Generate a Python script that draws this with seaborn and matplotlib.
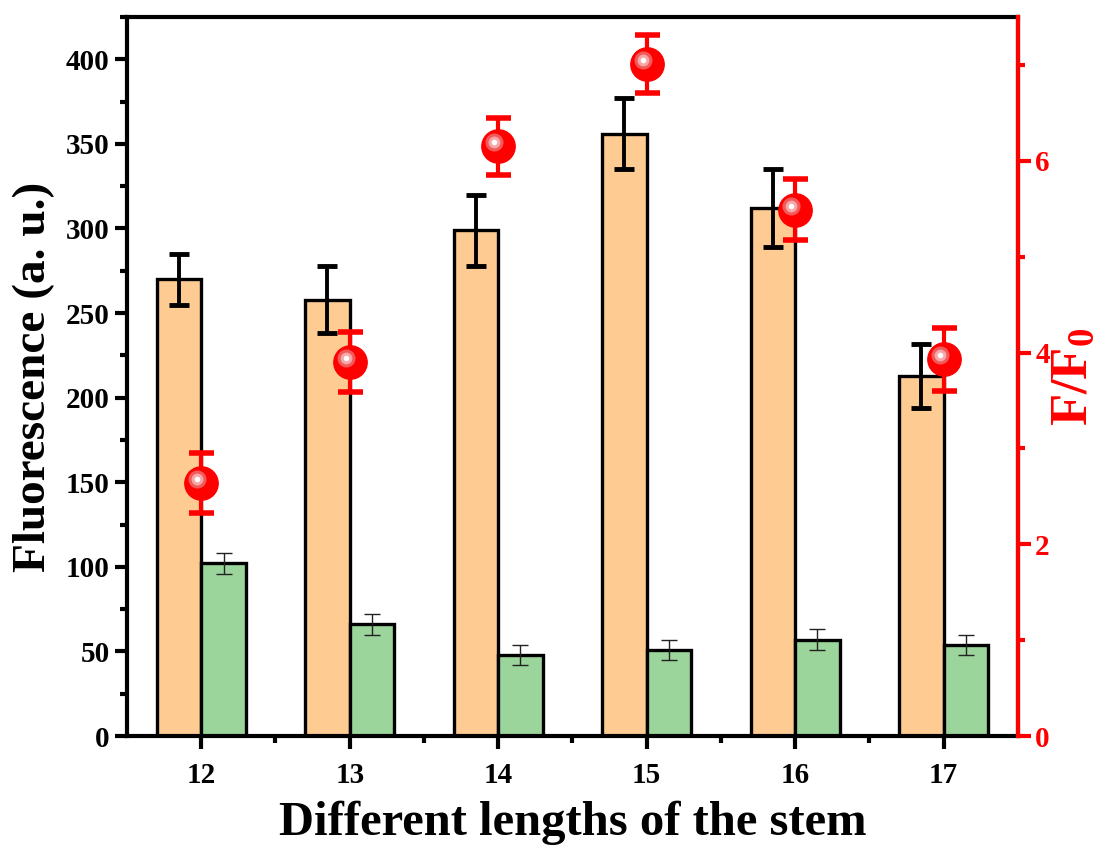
import numpy as np
import pandas as pd
import matplotlib
matplotlib.use("Agg")
import matplotlib.pyplot as plt
import matplotlib.transforms as mtransforms
import seaborn as sns

stem_lengths = ["12", "13", "14", "15", "16", "17"]
fluo_probe = [270, 258, 299, 356, 312, 213]
fluo_probe_err = [15, 20, 21, 21, 23, 19]
fluo_blank = [102, 66, 48, 51, 57, 54]
fluo_blank_err = [6, 6, 6, 6, 6, 6]
ratio = [2.64, 3.90, 6.15, 7.01, 5.49, 3.93]
ratio_err = [0.31, 0.31, 0.30, 0.30, 0.32, 0.33]

sns.set_style("ticks")
plt.rcParams["font.family"] = ["Liberation Serif", "DejaVu Serif"]
plt.rcParams["font.weight"] = "bold"
plt.rcParams["text.color"] = "black"
plt.rcParams["axes.labelcolor"] = "black"
plt.rcParams["xtick.color"] = "black"
plt.rcParams["ytick.color"] = "black"
plt.rcParams["mathtext.fontset"] = "custom"
plt.rcParams["mathtext.rm"] = "Liberation Serif:bold"
plt.rcParams["mathtext.it"] = "Liberation Serif:bold"
plt.rcParams["mathtext.bf"] = "Liberation Serif:bold"

df = pd.DataFrame({
    "stem": stem_lengths * 2,
    "value": fluo_probe + fluo_blank,
    "group": ["probe"] * 6 + ["blank"] * 6,
})

fig = plt.figure(figsize=(10.97, 8.48), dpi=100)
ax = fig.add_axes([0.1158, 0.132, 0.812, 0.848])

sns.barplot(data=df, x="stem", y="value", hue="group", order=stem_lengths,
            hue_order=["probe", "blank"], palette=["#FECB92", "#9BD59B"],
            saturation=1, width=0.6, edgecolor="black", linewidth=2.4,
            errorbar=None, legend=False, ax=ax, zorder=2)

# error bars on the bars, positioned from the drawn patches
bars = ax.patches
probe_x = [b.get_x() + b.get_width() / 2 for b in bars[:6]]
blank_x = [b.get_x() + b.get_width() / 2 for b in bars[6:12]]
ax.errorbar(probe_x, fluo_probe, yerr=fluo_probe_err, fmt="none", ecolor="black",
            elinewidth=2.8, capsize=7, capthick=3.5, zorder=3)
ax.errorbar(blank_x, fluo_blank, yerr=fluo_blank_err, fmt="none", ecolor="#222222",
            elinewidth=1, capsize=6, capthick=1, zorder=3)

ax.set_xlim(-0.5, 5.5)
ax.set_ylim(0, 425)
ax.set_yticks(np.arange(0, 401, 50))
ax.set_yticks(np.arange(25, 426, 50), minor=True)
ax.set_xticks(np.arange(0.5, 5.5, 1), minor=True)
ax.tick_params(axis="both", which="major", direction="out", length=9, width=3,
               labelsize=21, color="black", labelcolor="black")
ax.tick_params(axis="both", which="minor", direction="out", length=5, width=3,
               color="black")
ax.tick_params(axis="x", pad=10)
for lab in ax.get_xticklabels() + ax.get_yticklabels():
    lab.set_fontweight("bold")
for side in ["left", "bottom", "top", "right"]:
    ax.spines[side].set_linewidth(3)
    ax.spines[side].set_color("black")
ax.set_xlabel("Different lengths of the stem", fontsize=35, fontweight="bold", labelpad=8)
ax.set_ylabel("Fluorescence (a. u.)", fontsize=34, fontweight="bold", labelpad=8)

ax2 = ax.twinx()
ax2.set_ylim(0, 7.5)
ax2.errorbar(np.arange(len(stem_lengths)), ratio, yerr=ratio_err, fmt="o",
             color="red", ms=24, elinewidth=3, capsize=9, capthick=4,
             mec="red", zorder=5)
# glossy highlight on the spheres
shift = mtransforms.offset_copy(ax2.transData, fig=fig, x=-4, y=4, units="dots")
ax2.plot(np.arange(len(stem_lengths)), ratio, "o", ms=13, color="#F25A5A",
         mec="none", transform=shift, zorder=6)
ax2.plot(np.arange(len(stem_lengths)), ratio, "o", ms=8.5, color="#F7A7A7",
         mec="none", transform=shift, zorder=7)
ax2.plot(np.arange(len(stem_lengths)), ratio, "o", ms=4, color="white",
         mec="none", transform=shift, zorder=8)
ax2.set_yticks([0, 2, 4, 6])
ax2.set_yticks([1, 3, 5, 7], minor=True)
ax2.tick_params(axis="y", which="major", direction="out", length=9, width=3,
                labelsize=21, colors="red")
ax2.tick_params(axis="y", which="minor", direction="out", length=5, width=3,
                colors="red")
for lab in ax2.get_yticklabels():
    lab.set_fontweight("bold")
ax2.spines["right"].set_color("red")
ax2.spines["right"].set_linewidth(3)
for side in ["left", "top", "bottom"]:
    ax2.spines[side].set_visible(False)
ax2.set_ylabel("F/F$_0$", fontsize=38, fontweight="bold", color="red", labelpad=0)

fig.savefig("out.png", dpi=100)
